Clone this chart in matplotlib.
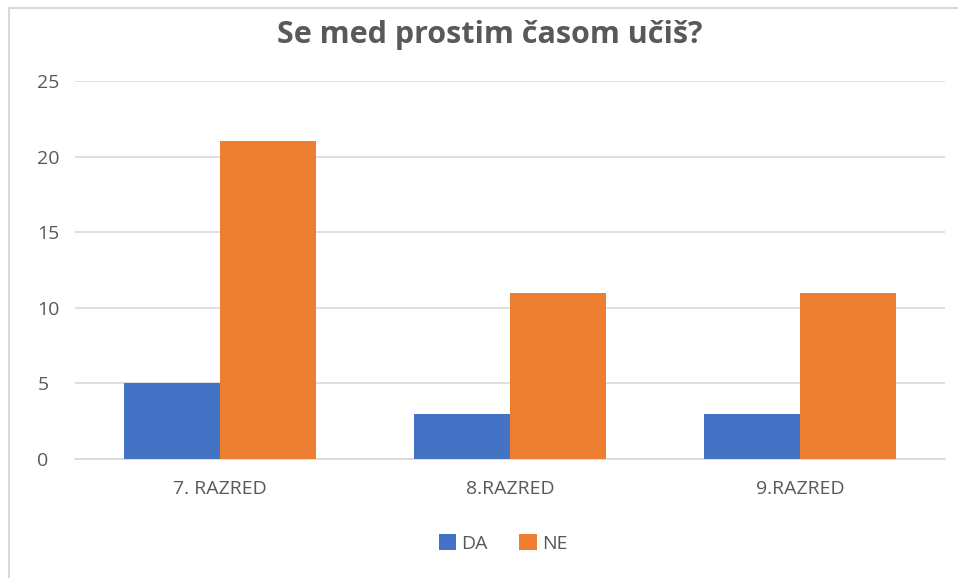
import matplotlib.pyplot as plt
import numpy as np
from matplotlib.lines import Line2D

categories = ['7. RAZRED', '8.RAZRED', '9.RAZRED']
da = [5, 3, 3]
ne = [21, 11, 11]
yticks = [0, 5, 10, 15, 20, 25]

plt.rcParams['font.family'] = ['Open Sans', 'DejaVu Sans']

fig = plt.figure(figsize=(9.58, 5.78), dpi=100)
ax = fig.add_axes([75 / 958, 1 - 459 / 578, 870 / 958, 378 / 578])

x = np.arange(len(categories))
w = 0.331
ax.bar(x - w / 2, da, w, color='#4472c4', label='DA', zorder=3)
ax.bar(x + w / 2, ne, w, color='#ed7d31', label='NE', zorder=3)

ax.set_xlim(-0.5, 2.5)
ax.set_ylim(0, 25)
ax.set_yticks(yticks)
ax.yaxis.grid(True, color='#d9d9d9', linewidth=1.2, zorder=0)
for s in ['top', 'right', 'left']:
    ax.spines[s].set_visible(False)
ax.spines['bottom'].set_color('#d9d9d9')
ax.spines['bottom'].set_linewidth(1.2)
ax.tick_params(length=0, labelsize=14, colors='#595959')
ax.tick_params(axis='y', pad=27)
ax.tick_params(axis='x', pad=15)
ax.set_xticks(x)
ax.set_xticklabels(categories)
for lab in ax.get_yticklabels():
    lab.set_horizontalalignment('left')

fig.text(490 / 958, 1 - 35 / 578, 'Se med prostim časom učiš?', ha='center', va='center',
         fontsize=22, fontweight='bold', color='#595959')

fig.legend(loc='center', bbox_to_anchor=(0.525, 0.06), ncol=2, frameon=False,
           fontsize=14, labelcolor='#595959', handlelength=0.9, handleheight=0.9,
           handletextpad=0.25, columnspacing=1.65)

# outer frame of the chart (top and left edges visible)
fig.add_artist(Line2D([9 / 958, 1], [1 - 8 / 578, 1 - 8 / 578], transform=fig.transFigure,
                      color='#d9d9d9', linewidth=1.5))
fig.add_artist(Line2D([9 / 958, 9 / 958], [0, 1 - 8 / 578], transform=fig.transFigure,
                      color='#d9d9d9', linewidth=1.5))

plt.savefig('out.png', dpi=100)
